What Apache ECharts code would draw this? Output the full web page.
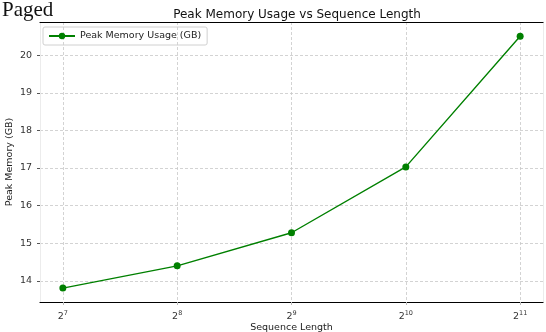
<!DOCTYPE html>
<html>
<head>
<meta charset="utf-8">
<script src="https://cdn.jsdelivr.net/npm/echarts@6/dist/echarts.min.js"></script>
<style>html,body{margin:0;padding:0;background:#fff;}#c{width:546px;height:332px;}</style>
</head>
<body>
<div id="c"></div>
<script>
// Sequence lengths as powers of two (exponents) and measured peak memory (GB)
const exponents = [7, 8, 9, 10, 11];
const peakMemory = [13.81, 14.40, 15.28, 17.03, 20.50];
const yTicks = [14, 15, 16, 17, 18, 19, 20];

const chart = echarts.init(document.getElementById('c'), null, {renderer: 'canvas'});
const font = 'DejaVu Sans';
chart.setOption({
  animation: false,
  backgroundColor: '#fff',
  title: {
    text: 'Peak Memory Usage vs Sequence Length',
    left: 292, top: 4, textAlign: 'center',
    textStyle: {fontFamily: font, fontSize: 12, fontWeight: 'normal', color: '#111'}
  },
  graphic: [{
    type: 'text', left: 2, top: 0,
    style: {text: 'Paged', fontFamily: 'Liberation Serif', fontSize: 21, fill: '#111'}
  }],
  legend: {
    left: 43, top: 27,
    padding: [4, 6, 4, 5],
    itemWidth: 26, itemHeight: 8, itemGap: 5,
    borderColor: '#d0d0d0', borderWidth: 1, borderRadius: 2,
    textStyle: {fontFamily: font, fontSize: 9.5, color: '#222'},
    data: ['Peak Memory Usage (GB)']
  },
  grid: {left: 40, right: 3, top: 22, bottom: 30, containLabel: false, outerBoundsMode: 'none'},
  xAxis: [{
    type: 'value', min: 6.8, max: 11.2,
    name: 'Sequence Length', nameLocation: 'middle', nameGap: 21, nameMoveOverlap: false,
    nameTextStyle: {fontFamily: font, fontSize: 9.5, color: '#222'},
    axisLine: {show: true, lineStyle: {color: '#000', width: 1.2}},
    axisTick: {show: true, length: 3, lineStyle: {color: '#bbb'}, customValues: exponents},
    axisLabel: {
      customValues: exponents, margin: 8,
      formatter: v => '{b|2}{s|' + v + '}',
      rich: {
        b: {fontFamily: font, fontSize: 9.5, color: '#333'},
        s: {fontFamily: font, fontSize: 6.5, color: '#333', verticalAlign: 'bottom', padding: [0, 0, 6, 0]}
      }
    },
    splitLine: {show: true, lineStyle: {color: '#c8c8c8', type: [3, 2], width: 0.8}},
    showMinLabel: false, showMaxLabel: false
  }, {
    type: 'value', min: 6.8, max: 11.2, position: 'top',
    axisLine: {show: true, lineStyle: {color: '#000', width: 1.2}},
    axisTick: {show: false}, axisLabel: {show: false}, splitLine: {show: false}
  }],
  yAxis: [{
    type: 'value', min: 13.44, max: 20.88,
    name: 'Peak Memory (GB)', nameLocation: 'middle', nameGap: 25, nameMoveOverlap: false,
    nameTextStyle: {fontFamily: font, fontSize: 9.5, color: '#222'},
    axisLine: {show: true, lineStyle: {color: '#ececec', width: 1}},
    axisTick: {show: true, length: 3, lineStyle: {color: '#555'}, customValues: yTicks},
    axisLabel: {customValues: yTicks, margin: 8, fontFamily: font, fontSize: 9.5, color: '#333'},
    splitLine: {show: true, lineStyle: {color: '#c8c8c8', type: [3, 2], width: 0.8}}
  }, {
    type: 'value', min: 13.44, max: 20.88, position: 'right',
    axisLine: {show: true, lineStyle: {color: '#ececec', width: 1}},
    axisTick: {show: false}, axisLabel: {show: false}, splitLine: {show: false}
  }],
  series: [{
    name: 'Peak Memory Usage (GB)',
    type: 'line',
    data: exponents.map((e, i) => [e, peakMemory[i]]),
    symbol: 'circle', symbolSize: 7,
    itemStyle: {color: '#008000'},
    lineStyle: {color: '#008000', width: 1.4}
  }]
});
</script>
</body>
</html>
